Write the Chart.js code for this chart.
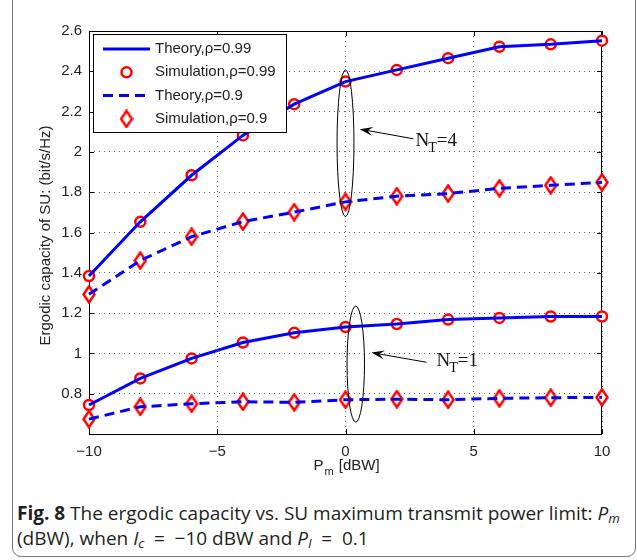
<!DOCTYPE html>
<html>
<head>
<meta charset="utf-8">
<script src="https://cdnjs.cloudflare.com/ajax/libs/Chart.js/4.4.1/chart.umd.min.js"></script>
<style>
  html, body { margin: 0; padding: 0; background: #fff; }
  body { width: 637px; height: 560px; position: relative; overflow: hidden; }
  #frame { position: absolute; left: 12px; top: -20px; width: 622px; height: 575px;
           border: 1px solid #777; border-radius: 9px; }
  #chart { position: absolute; left: 0; top: 0; }
  #caption { position: absolute; left: 17px; top: 501px; width: 620px; white-space: nowrap;
             font-family: "Open Sans", sans-serif; font-size: 19px; line-height: 25px; color: #231f20; }
  #caption sub { font-size: 70%; line-height: 0; vertical-align: -0.25em; }
  #caption .op { margin: 0 0.25em; }
</style>
</head>
<body>
<div id="frame"></div>
<canvas id="chart" width="637" height="490"></canvas>
<div id="caption"><b>Fig. 8</b> The ergodic capacity vs. SU maximum transmit power limit: <i>P<sub>m</sub></i><br>(dBW), when <i>I<sub>c</sub></i> <span class="op">=</span> &minus;10 dBW and <i>P<sub>I</sub></i> <span class="op">=</span> 0.1</div>
<script>
// x values, P_m in dBW
const pm = [-10, -8, -6, -4, -2, 0, 2, 4, 6, 8, 10];

// N_T = 4
const theoryNt4Rho099 = [1.384, 1.653, 1.884, 2.082, 2.237, 2.349, 2.407, 2.465, 2.522, 2.534, 2.552];
const simNt4Rho099    = [1.384, 1.653, 1.884, 2.082, 2.237, 2.349, 2.407, 2.465, 2.522, 2.534, 2.552];
const theoryNt4Rho09  = [1.293, 1.461, 1.579, 1.654, 1.701, 1.752, 1.780, 1.793, 1.819, 1.834, 1.849];
const simNt4Rho09     = [1.293, 1.461, 1.579, 1.654, 1.701, 1.752, 1.780, 1.793, 1.819, 1.834, 1.849];

// N_T = 1
const theoryNt1Rho099 = [0.744, 0.876, 0.975, 1.054, 1.102, 1.131, 1.146, 1.168, 1.176, 1.183, 1.183];
const simNt1Rho099    = [0.744, 0.876, 0.975, 1.054, 1.102, 1.131, 1.146, 1.168, 1.176, 1.183, 1.183];
const theoryNt1Rho09  = [0.674, 0.735, 0.750, 0.760, 0.757, 0.770, 0.773, 0.770, 0.777, 0.780, 0.782];
const simNt1Rho09     = [0.674, 0.735, 0.750, 0.760, 0.757, 0.770, 0.773, 0.770, 0.777, 0.780, 0.782];

const xTicks = [-10, -5, 0, 5, 10];
const yTicks = [0.8, 1, 1.2, 1.4, 1.6, 1.8, 2, 2.2, 2.4, 2.6];

const BLUE = '#0000ff';
const RED = '#ff0000';
const FONT = '"Liberation Sans", Arial, sans-serif';

// matlab style diamond, a bit taller than wide
function makeDiamond() {
    const c = document.createElement('canvas');
    c.width = 14; c.height = 19;
    const g = c.getContext('2d');
    g.beginPath();
    g.moveTo(7, 1.5); g.lineTo(12.5, 9.5); g.lineTo(7, 17.5); g.lineTo(1.5, 9.5); g.closePath();
    g.fillStyle = '#fff'; g.fill();
    g.lineWidth = 2.5; g.strokeStyle = RED; g.stroke();
    return c;
}
const diamond = makeDiamond();

const xy = ys => pm.map((x, i) => ({x: x, y: ys[i]}));

function theory(label, ys, dashed) {
    return { label: label, data: xy(ys), borderColor: BLUE, borderWidth: 3,
             borderDash: dashed ? [10, 6] : [], pointRadius: 0, fill: false, tension: 0, clip: false };
}
function sim(label, ys, style) {
    return { label: label, data: xy(ys), showLine: false, pointStyle: style,
             pointRadius: 5, borderWidth: 2.5, borderColor: RED, pointBackgroundColor: '#fff', clip: false };
}

const datasets = [
    theory('Theory,\u03c1=0.99', theoryNt4Rho099, false),
    sim('Simulation,\u03c1=0.99', simNt4Rho099, 'circle'),
    theory('Theory,\u03c1=0.9', theoryNt4Rho09, true),
    sim('Simulation,\u03c1=0.9', simNt4Rho09, diamond),
    theory('', theoryNt1Rho099, false),
    sim('', simNt1Rho099, 'circle'),
    theory('', theoryNt1Rho09, true),
    sim('', simNt1Rho09, diamond),
];

const overlay = {
    id: 'overlay',
    beforeDatasetsDraw(chart) {
        const {ctx, chartArea: a, scales: {x, y}} = chart;
        ctx.save();
        ctx.strokeStyle = '#000';
        ctx.lineWidth = 1;
        ctx.beginPath();
        x.ticks.forEach(t => {
            const px = Math.round(x.getPixelForValue(t.value)) + 0.5;
            ctx.moveTo(px, a.bottom); ctx.lineTo(px, a.bottom - 5);
            ctx.moveTo(px, a.top); ctx.lineTo(px, a.top + 5);
        });
        y.ticks.forEach(t => {
            const py = Math.round(y.getPixelForValue(t.value)) + 0.5;
            ctx.moveTo(a.left, py); ctx.lineTo(a.left + 5, py);
            ctx.moveTo(a.right, py); ctx.lineTo(a.right - 5, py);
        });
        ctx.stroke();
        ctx.strokeRect(a.left + 0.5, a.top + 0.5, a.right - a.left - 1, a.bottom - a.top);
        ctx.restore();
    },
    afterDatasetsDraw(chart) {
        const {ctx, chartArea: a, scales: {x, y}} = chart;
        ctx.save();

        // ellipses round the curve groups
        ctx.strokeStyle = '#000';
        ctx.lineWidth = 1;
        [[0, 2.043, 0.33, 0.364], [0.40, 0.947, 0.34, 0.288]].forEach(([cx, cy, rx, ry]) => {
            const px = x.getPixelForValue(cx), py = y.getPixelForValue(cy);
            const prx = x.getPixelForValue(cx + rx) - px, pry = py - y.getPixelForValue(cy + ry);
            ctx.beginPath();
            ctx.ellipse(px, py, prx, pry, 0, 0, Math.PI * 2);
            ctx.stroke();
        });

        // arrows and N_T labels
        [[2.65, 2.065, 0.557, 2.113, 2.73, 2.031, '=4'],
         [3.16, 0.956, 1.01, 1.004, 3.55, 0.937, '=1']].forEach(([fx, fy, tx, ty, lx, ly, txt]) => {
            const x0 = x.getPixelForValue(fx), y0 = y.getPixelForValue(fy);
            const x1 = x.getPixelForValue(tx), y1 = y.getPixelForValue(ty);
            const ang = Math.atan2(y1 - y0, x1 - x0);
            ctx.beginPath();
            ctx.moveTo(x0, y0); ctx.lineTo(x1 - 8 * Math.cos(ang), y1 - 8 * Math.sin(ang));
            ctx.stroke();
            ctx.beginPath();
            ctx.moveTo(x1, y1);
            ctx.lineTo(x1 - 13 * Math.cos(ang) + 4.5 * Math.sin(ang), y1 - 13 * Math.sin(ang) - 4.5 * Math.cos(ang));
            ctx.lineTo(x1 - 8 * Math.cos(ang), y1 - 8 * Math.sin(ang));
            ctx.lineTo(x1 - 13 * Math.cos(ang) - 4.5 * Math.sin(ang), y1 - 13 * Math.sin(ang) + 4.5 * Math.cos(ang));
            ctx.closePath();
            ctx.fillStyle = '#000';
            ctx.fill();

            const bx = x.getPixelForValue(lx), by = y.getPixelForValue(ly);
            ctx.fillStyle = '#111';
            ctx.textBaseline = 'alphabetic';
            ctx.textAlign = 'left';
            ctx.font = '19px "Liberation Serif", serif';
            ctx.fillText('N', bx, by);
            let w = ctx.measureText('N').width;
            ctx.font = '14px "Liberation Serif", serif';
            ctx.fillText('T', bx + w - 1, by + 6);
            w += ctx.measureText('T').width - 1;
            ctx.font = '19px "Liberation Serif", serif';
            ctx.fillText(txt, bx + w, by);
        });

        // legend box in the top left corner
        const lx = a.left + 4, ly = a.top + 3, lw = 193, lh = 98;
        ctx.fillStyle = '#fff';
        ctx.fillRect(lx, ly, lw, lh);
        ctx.strokeStyle = '#000';
        ctx.lineWidth = 1;
        ctx.strokeRect(lx + 0.5, ly + 0.5, lw, lh);
        ctx.font = '15px ' + FONT;
        ctx.textBaseline = 'middle';
        chart.data.datasets.slice(0, 4).forEach((ds, i) => {
            const ry = ly + 15 + i * 23.3;
            const sx = lx + 10, ex = lx + 57;
            if (ds.showLine !== false) {
                ctx.save();
                ctx.strokeStyle = ds.borderColor;
                ctx.lineWidth = ds.borderWidth;
                ctx.setLineDash(ds.borderDash);
                ctx.beginPath();
                ctx.moveTo(sx, ry); ctx.lineTo(ex, ry);
                ctx.stroke();
                ctx.restore();
            } else {
                ctx.save();
                ctx.strokeStyle = ds.borderColor;
                ctx.fillStyle = ds.pointBackgroundColor;
                ctx.lineWidth = ds.borderWidth;
                Chart.helpers.drawPoint(ctx, {pointStyle: ds.pointStyle, radius: ds.pointRadius,
                    borderWidth: ds.borderWidth, rotation: 0}, (sx + ex) / 2, ry);
                ctx.restore();
            }
            ctx.fillStyle = '#222';
            ctx.fillText(ds.label, lx + 62, ry);
        });

        // axis titles
        ctx.fillStyle = '#222';
        ctx.font = '15px ' + FONT;
        ctx.textBaseline = 'alphabetic';
        ctx.textAlign = 'left';
        const tx = (a.left + a.right) / 2 - 32, ty = 470;
        ctx.fillText('P', tx, ty);
        let w = ctx.measureText('P').width;
        ctx.font = '11px ' + FONT;
        ctx.fillText('m', tx + w + 1, ty + 5);
        w += ctx.measureText('m').width + 2;
        ctx.font = '15px ' + FONT;
        ctx.fillText(' [dBW]', tx + w, ty);

        ctx.translate(50, (a.top + a.bottom) / 2 + 3);
        ctx.rotate(-Math.PI / 2);
        ctx.textAlign = 'center';
        ctx.fillText('Ergodic capacity of SU: (bit/s/Hz)', 0, 0);
        ctx.restore();
    }
};

new Chart(document.getElementById('chart'), {
    type: 'line',
    data: { datasets: datasets },
    options: {
        responsive: false,
        animation: false,
        devicePixelRatio: 1,
        layout: { autoPadding: false, padding: { left: 0, right: 35, top: 31, bottom: 0 } },
        plugins: { legend: { display: false }, tooltip: { enabled: false } },
        scales: {
            x: {
                type: 'linear', min: -10, max: 10,
                afterFit: s => { s.height = 56; },
                afterBuildTicks: s => { s.ticks = xTicks.map(v => ({value: v})); },
                grid: { color: '#666', drawTicks: false, lineWidth: 1 },
                border: { display: false, dash: [1, 4] },
                ticks: { padding: 9, color: '#222', font: { family: FONT, size: 15 },
                         maxRotation: 0,
                         callback: v => String(v).replace('-', '\u2212') }
            },
            y: {
                type: 'linear', min: 0.6, max: 2.6,
                afterFit: s => { s.width = 89; },
                afterBuildTicks: s => { s.ticks = yTicks.map(v => ({value: v})); },
                grid: { color: '#666', drawTicks: false, lineWidth: 1 },
                border: { display: false, dash: [1, 4] },
                ticks: { padding: 7, color: '#222', font: { family: FONT, size: 15 },
                         callback: v => (Math.round(v * 10) % 10 === 0 ? String(Math.round(v)) : v.toFixed(1)) }
            }
        }
    },
    plugins: [overlay]
});
</script>
</body>
</html>
